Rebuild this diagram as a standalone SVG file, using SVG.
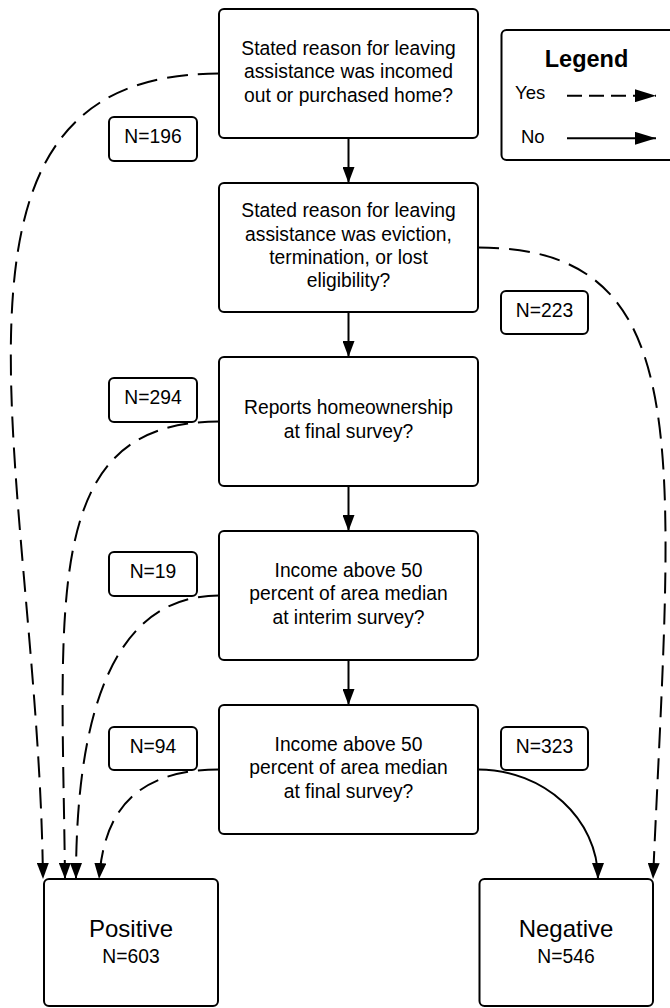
<svg xmlns="http://www.w3.org/2000/svg" width="670" height="1008" viewBox="0 0 670 1008">
<defs>
<style>
.box{fill:#fff;stroke:#000;stroke-width:2}
.t{font-family:"Liberation Sans",Arial,sans-serif;font-size:19.3px;fill:#000;text-anchor:middle}
.big{font-size:24px}
.lg{font-family:"Liberation Sans",Arial,sans-serif;font-size:18.5px;fill:#000}
.lgt{font-family:"Liberation Sans",Arial,sans-serif;font-size:23.5px;font-weight:bold;fill:#000;text-anchor:middle}
.c{fill:none;stroke:#000;stroke-width:2}
.d{stroke-dasharray:21 10}
.ld{stroke-dasharray:15 7}
</style>
<marker id="arr" markerUnits="userSpaceOnUse" viewBox="0 0 16 12" markerWidth="16" markerHeight="12" refX="16" refY="6" orient="auto"><path d="M0,0 L16,6 L0,12 z" fill="#000"/></marker>
<marker id="larr" markerUnits="userSpaceOnUse" viewBox="0 0 21 13" markerWidth="21" markerHeight="13" refX="21" refY="6.5" orient="auto"><path d="M0,0 L21,6.5 L0,13 z" fill="#000"/></marker>
</defs>
<rect width="670" height="1008" fill="#fff"/>

<g id="connectors">
<path class="c" d="M348.5,138 L348.5,183" marker-end="url(#arr)"/>
<path class="c" d="M348.5,312 L348.5,357" marker-end="url(#arr)"/>
<path class="c" d="M348.5,486 L348.5,531" marker-end="url(#arr)"/>
<path class="c" d="M348.5,660 L348.5,705" marker-end="url(#arr)"/>
<path class="c d" d="M219,73.5 C-95,73.5 38,470 43,879" marker-end="url(#arr)"/>
<path class="c d" d="M478,247.5 C700,247.5 672,450 653,879" marker-end="url(#arr)"/>
<path class="c d" d="M219,421.5 C40,421.5 62,600 65,879" marker-end="url(#arr)"/>
<path class="c d" d="M219,595.5 C110,595.5 76,720 76,879" marker-end="url(#arr)"/>
<path class="c d" d="M219,769.5 C120,769.5 103,830 99,879" marker-end="url(#arr)"/>
<path class="c" d="M478,769.5 C544,769.5 598,819 598,879" marker-end="url(#arr)"/>
</g>

<g id="q1">
<rect class="box" x="219" y="9" width="259" height="129" rx="5"/>
<text class="t" x="348.5" y="55">Stated reason for leaving</text>
<text class="t" x="348.5" y="78.3">assistance was incomed</text>
<text class="t" x="348.5" y="101.6">out or purchased home?</text>
</g>
<g id="q2">
<rect class="box" x="219" y="183" width="259" height="129" rx="5"/>
<text class="t" x="348.5" y="217.3">Stated reason for leaving</text>
<text class="t" x="348.5" y="240.6">assistance was eviction,</text>
<text class="t" x="348.5" y="263.9">termination, or lost</text>
<text class="t" x="348.5" y="287.2">eligibility?</text>
</g>
<g id="q3">
<rect class="box" x="219" y="357" width="259" height="129" rx="5"/>
<text class="t" x="348.5" y="414.4">Reports homeownership</text>
<text class="t" x="348.5" y="437.7">at final survey?</text>
</g>
<g id="q4">
<rect class="box" x="219" y="531" width="259" height="129" rx="5"/>
<text class="t" x="348.5" y="576.9">Income above 50</text>
<text class="t" x="348.5" y="600.2">percent of area median</text>
<text class="t" x="348.5" y="623.5">at interim survey?</text>
</g>
<g id="q5">
<rect class="box" x="219" y="705" width="259" height="129" rx="5"/>
<text class="t" x="348.5" y="750.9">Income above 50</text>
<text class="t" x="348.5" y="774.2">percent of area median</text>
<text class="t" x="348.5" y="797.5">at final survey?</text>
</g>

<g id="n196">
<rect class="box" x="109" y="117" width="88" height="44" rx="5"/>
<text class="t" x="153" y="143">N=196</text>
</g>
<g id="n223">
<rect class="box" x="501" y="291" width="87" height="43" rx="5"/>
<text class="t" x="544.5" y="316.5">N=223</text>
</g>
<g id="n294">
<rect class="box" x="109" y="378" width="88" height="44" rx="5"/>
<text class="t" x="153" y="404">N=294</text>
</g>
<g id="n19">
<rect class="box" x="109" y="552" width="88" height="44" rx="5"/>
<text class="t" x="153" y="578">N=19</text>
</g>
<g id="n94">
<rect class="box" x="109" y="727" width="88" height="43" rx="5"/>
<text class="t" x="153" y="752.5">N=94</text>
</g>
<g id="n323">
<rect class="box" x="501" y="727" width="87" height="43" rx="5"/>
<text class="t" x="544.5" y="752.5">N=323</text>
</g>

<g id="positive">
<rect class="box" x="44" y="879" width="174" height="127" rx="5"/>
<text class="t big" x="131" y="936.7">Positive</text>
<text class="t" x="131" y="962.7">N=603</text>
</g>
<g id="negative">
<rect class="box" x="479.5" y="879" width="173.5" height="127" rx="5"/>
<text class="t big" x="566" y="936.7">Negative</text>
<text class="t" x="566" y="962.7">N=546</text>
</g>

<g id="legend">
<rect class="box" x="501.5" y="30" width="200" height="130" rx="5"/>
<text class="lgt" x="586.5" y="67">Legend</text>
<text class="lg" x="515" y="99">Yes</text>
<text class="lg" x="521" y="142.5">No</text>
<path class="c ld" d="M567,95.7 L656,95.7" marker-end="url(#larr)"/>
<path class="c" d="M567,138.3 L656,138.3" marker-end="url(#larr)"/>
</g>
</svg>
